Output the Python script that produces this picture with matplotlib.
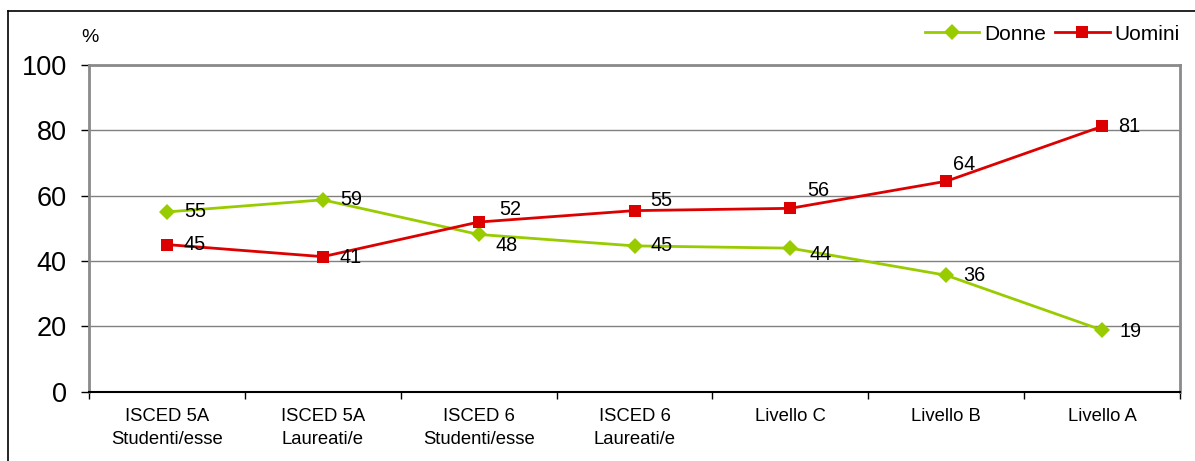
import matplotlib.pyplot as plt
from matplotlib.lines import Line2D

plt.rcParams['font.family'] = ['Liberation Sans', 'DejaVu Sans']

# categories and shares (%) by gender
categories = ['ISCED 5A\nStudenti/esse', 'ISCED 5A\nLaureati/e', 'ISCED 6\nStudenti/esse',
              'ISCED 6\nLaureati/e', 'Livello C', 'Livello B', 'Livello A']
donne = [55.0, 58.7, 48.1, 44.6, 43.9, 35.6, 18.8]
uomini = [45.0, 41.3, 51.9, 55.4, 56.1, 64.4, 81.2]
y_ticks = [0, 20, 40, 60, 80, 100]

GREEN = '#99CC00'
RED = '#DD0000'
GRID = '#808080'

W, H = 1195, 461
fig = plt.figure(figsize=(W / 100, H / 100), dpi=100)
ax = fig.add_axes([89 / W, 1 - 391.5 / H, (1180 - 89) / W, (391.5 - 65) / H])

x = list(range(len(categories)))
ax.plot(x, donne, color=GREEN, lw=2, marker='D', ms=7.8, mew=0, label='Donne', zorder=3)
ax.plot(x, uomini, color=RED, lw=2, marker='s', ms=9, mew=0, label='Uomini', zorder=4)

# value labels, offsets in pixels
off_d = [(17, 0), (17, 0), (17, -11), (16, 0), (19, -6), (17, 0), (17, -1)]
off_u = [(17, 0), (17, -1), (21, 13), (16, 10), (17, 18), (7, 17), (16, 0)]
for xi, v, o in zip(x, donne, off_d):
    ax.annotate(f'{v:.0f}', (xi, v), xytext=o, textcoords='offset pixels',
                ha='left', va='center', fontsize=14.3, zorder=5)
for xi, v, o in zip(x, uomini, off_u):
    ax.annotate(f'{v:.0f}', (xi, v), xytext=o, textcoords='offset pixels',
                ha='left', va='center', fontsize=14.3, zorder=5)

ax.set_xlim(-0.5, len(categories) - 0.5)
ax.set_ylim(0, 100)
ax.set_yticks(y_ticks)
ax.tick_params(axis='y', labelsize=19.5, length=6, width=1, direction='out', pad=10)
ax.set_xticks(x)
ax.set_xticklabels(categories, fontsize=13.3, linespacing=1.45)
ax.set_xticks([i - 0.5 for i in range(len(categories) + 1)], minor=True)
ax.tick_params(axis='x', which='major', length=0, pad=12)
ax.tick_params(axis='x', which='minor', length=5, width=1, direction='out')

ax.yaxis.grid(True, color=GRID, lw=1)
ax.set_axisbelow(True)
for side in ['left', 'top', 'right']:
    ax.spines[side].set_color('#8a8a8a')
    ax.spines[side].set_linewidth(2)
ax.spines['bottom'].set_color('black')
ax.spines['bottom'].set_linewidth(1.5)

fig.text(90 / W, 1 - 37 / H, '%', ha='center', va='center', fontsize=14)

fig.legend(loc='center right', bbox_to_anchor=(1180 / W, 1 - 34 / H), ncol=2,
           frameon=False, fontsize=15, handlelength=2.6, handletextpad=0.25,
           columnspacing=0.45, borderpad=0, borderaxespad=0)

# outer frame (top and left edges)
fig.add_artist(Line2D([8 / W, 1], [1 - 11 / H, 1 - 11 / H], color='black', lw=1.2,
                      transform=fig.transFigure))
fig.add_artist(Line2D([8 / W, 8 / W], [0, 1 - 11 / H], color='black', lw=1.2,
                      transform=fig.transFigure))

fig.savefig('out.png', dpi=100)
